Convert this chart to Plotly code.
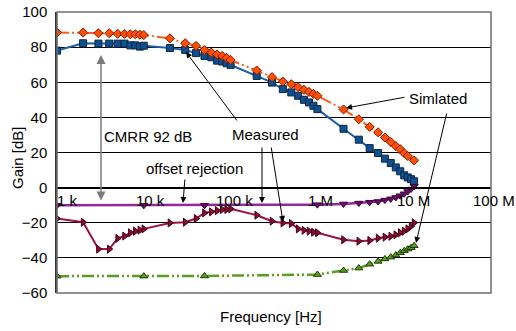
import math
import plotly.graph_objects as go

# ---------------- data ----------------
freq_cmrr_meas = [1e3, 2e3, 3e3, 4e3, 5e3, 6e3, 7e3, 8e3, 9e3, 1e4,
                  2e4, 3e4, 4e4, 5e4, 6e4, 7e4, 8e4, 9e4, 1e5,
                  2e5, 3e5, 4e5, 5e5, 6e5, 7e5, 8e5, 9e5, 1e6,
                  2e6, 3e6, 4e6, 5e6, 6e6, 7e6, 8e6, 9e6, 1e7, 1.1e7, 1.2e7, 1.3e7]
gain_cmrr_meas = [78.0, 82.2, 82.0, 82.0, 82.0, 82.0, 81.0, 81.0, 80.3, 80.8,
                  79.5, 78.4, 76.6, 75.0, 74.2, 72.3, 71.8, 70.8, 69.9,
                  63.6, 59.8, 56.1, 54.2, 52.3, 50.0, 48.5, 46.6, 44.7,
                  33.5, 27.3, 22.5, 19.7, 16.5, 14.0, 11.5, 9.3, 7.0, 5.8, 4.8, 3.6]

freq_cmrr_sim = [1e3, 2e3, 3e3, 4e3, 5e3, 6e3, 7e3, 8e3, 9e3, 1e4,
                 2e4, 3e4, 4e4, 5e4, 6e4, 7e4, 8e4, 9e4, 1e5,
                 2e5, 3e5, 4e5, 5e5, 6e5, 7e5, 8e5, 9e5, 1e6,
                 2e6, 3e6, 4e6, 5e6, 6e6, 7e6, 8e6, 9e6, 1e7, 1.1e7, 1.3e7]
gain_cmrr_sim = [88.3, 88.3, 87.9, 87.9, 87.6, 87.5, 87.3, 87.3, 87.1, 86.9,
                 85.0, 82.2, 80.7, 78.4, 76.9, 75.8, 75.0, 73.9, 72.7,
                 66.7, 62.9, 60.4, 58.9, 57.2, 55.7, 54.5, 53.4, 52.3,
                 44.5, 38.9, 34.6, 31.5, 28.5, 26.0, 23.7, 21.9, 19.6, 18.0, 15.5]

freq_sparse = [1e3, 1e4, 5e4, 1e6, 2e6, 3e6, 4e6, 5e6, 6e6, 7e6, 8e6, 9e6,
               1e7, 1.1e7, 1.2e7, 1.3e7]
gain_offset_meas = [-10.1, -10.1, -10.1, -9.7, -9.3, -8.8, -8.3, -7.9, -7.1,
                    -6.4, -5.6, -4.6, -3.5, -2.2, -0.8, 0.8]
gain_offset_sim = [-50.4, -50.4, -50.3, -49.5, -47.2, -45.8, -43.6, -42.0,
                   -40.6, -39.6, -38.4, -37.1, -36.0, -35.0, -34.2, -33.1]

freq_psrr_meas = freq_cmrr_meas
gain_psrr_meas = [-17.6, -19.7, -35.0, -35.0, -28.9, -27.6, -25.7, -24.8, -24.2, -23.5,
                  -20.1, -19.7, -17.6, -14.4, -13.8, -13.1, -12.5, -12.4, -12.1,
                  -15.7, -19.1, -20.1, -20.4, -23.5, -24.3, -24.8, -25.4, -25.7,
                  -29.7, -30.5, -30.1, -28.8, -28.2, -27.7, -26.9, -25.7, -24.8,
                  -23.5, -22.0, -20.0]

x_tick_vals = [1e3, 1e4, 1e5, 1e6, 1e7, 1e8]
x_tick_text = ["1 k", "10 k", "100 k", "1 M", "10 M", "100 M"]
y_tick_vals = [-60, -40, -20, 0, 20, 40, 60, 80, 100]

FONT = "Liberation Sans, Arial, sans-serif"
FS = 15

# ---------------- geometry helpers (pixel -> axis units) ----------------
W, H = 516, 331
L, R, T, B = 57, 25, 12, 38
PW, PH = W - L - R, H - T - B


def px2x(px):
    return 3 + 5 * (px - L) / PW


def py2y(py):
    return 100 - 160 * (py - T) / PH


def pxp(px):
    return (px - L) / PW


def pyp(py):
    return (H - B - py) / PH


fig = go.Figure()

fig.add_trace(go.Scatter(
    x=freq_cmrr_meas, y=gain_cmrr_meas, mode="lines+markers",
    line=dict(color="#1d5fa8", width=2),
    marker=dict(symbol="square", size=7, color="#10508f",
                line=dict(color="#0b2545", width=1))))
fig.add_trace(go.Scatter(
    x=freq_cmrr_sim, y=gain_cmrr_sim, mode="lines+markers",
    line=dict(color="#ff5a1f", width=2, dash="12px,3px,2px,3px,2px,3px"),
    marker=dict(symbol="diamond", size=7, color="#ff5000",
                line=dict(color="#8b1a00", width=1))))
fig.add_trace(go.Scatter(
    x=freq_sparse, y=gain_offset_meas, mode="lines+markers",
    line=dict(color="#93299a", width=2.5),
    marker=dict(symbol="triangle-down", size=7, color="#6b0a6b",
                line=dict(color="#3a003a", width=1))))
fig.add_trace(go.Scatter(
    x=freq_psrr_meas, y=gain_psrr_meas, mode="lines+markers",
    line=dict(color="#9b1443", width=2),
    marker=dict(symbol="triangle-right", size=7, color="#8b0a30",
                line=dict(color="#400015", width=1))))
fig.add_trace(go.Scatter(
    x=freq_sparse, y=gain_offset_sim, mode="lines+markers",
    line=dict(color="#5a9e1f", width=2.5, dash="12px,3px,2px,3px,2px,3px"),
    marker=dict(symbol="triangle-up", size=7, color="#5a9e1f",
                line=dict(color="#1f3a05", width=1))))

fig.update_layout(
    width=W, height=H,
    margin=dict(l=L, r=R, t=T, b=B, autoexpand=False),
    paper_bgcolor="white", plot_bgcolor="white",
    showlegend=False,
    font=dict(family=FONT, size=FS, color="black"),
    xaxis=dict(type="log", range=[3, 8], anchor="free", position=60 / 160,
               automargin=False, showgrid=False, zeroline=False,
               showline=True, linecolor="black", linewidth=2,
               tickvals=x_tick_vals, showticklabels=False, ticks=""),
    yaxis=dict(range=[-60, 100], tickvals=y_tick_vals, ticks="",
               automargin=False,
               showgrid=True, gridcolor="black", gridwidth=1,
               zeroline=False, showline=True, linecolor="#333333", linewidth=1.5,
               ticklabelstandoff=5,
               tickfont=dict(family=FONT, size=FS, color="black")),
)

# x tick labels sitting just under the 0 dB axis line (Excel-style placement)
x_label_shift = [10, 7, 4, 3, 9, 3]
for tv, tt, sh in zip(x_tick_vals, x_tick_text, x_label_shift):
    fig.add_annotation(text=tt, x=math.log10(tv), y=0, xref="x", yref="y",
                       xanchor="center", yanchor="top", xshift=sh, yshift=-2,
                       showarrow=False, font=dict(family=FONT, size=FS))

# frame
fig.add_shape(type="rect", xref="paper", yref="paper", x0=0, x1=1, y0=0, y1=1,
              line=dict(color="#6e6e6e", width=1.5), layer="above")


def label(text, px, py, angle=0):
    fig.add_annotation(text=text, xref="paper", yref="paper",
                       x=pxp(px), y=pyp(py), xanchor="center", yanchor="middle",
                       showarrow=False, textangle=angle,
                       font=dict(family=FONT, size=FS))


# axis titles
label("Frequency [Hz]", 271, 316)
label("Gain [dB]", 17, 158, angle=-90)

# text labels
label("CMRR 92 dB", 148, 136)
label("offset rejection", 194, 168)
label("Measured", 265, 134)
label("Simlated", 438, 98)

# arrows: (head px, head py, tail px, tail py, color, width, side)
arrows = [
    (101, 55, 101, 202, "#7a7a7a", 1.5, "end+start"),
    (183, 203, 185, 178, "black", 1, "end"),
    (186, 52, 238, 122, "black", 1, "end"),
    (262, 203, 262, 146, "black", 1, "end"),
    (283, 222, 271, 146, "black", 1, "end"),
    (346, 108, 406, 97, "black", 1, "end"),
    (416, 243, 447, 112, "black", 1, "end"),
]
for hx, hy, tx, ty, col, wd, side in arrows:
    fig.add_annotation(text="", x=px2x(hx), y=py2y(hy), xref="x", yref="y",
                       ax=tx - hx, ay=ty - hy, showarrow=True,
                       arrowhead=2, arrowsize=1.2, arrowwidth=wd,
                       arrowcolor=col, arrowside=side, standoff=0, startstandoff=0)

fig.write_html("out.html")
